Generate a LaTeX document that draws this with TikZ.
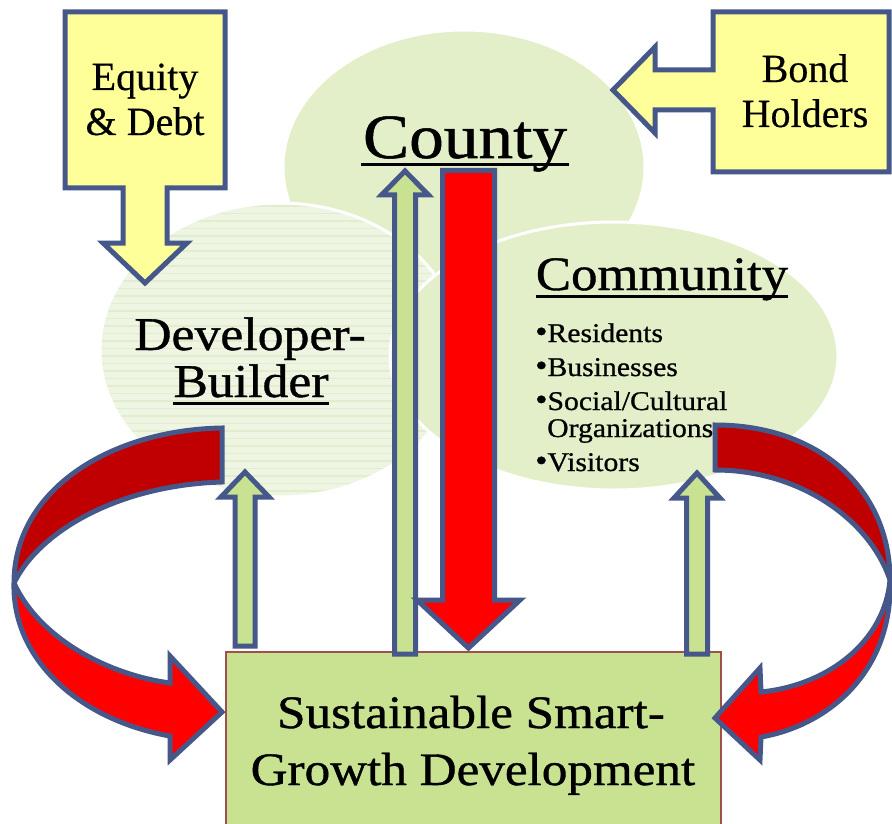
\documentclass[tikz,border=0pt]{standalone}
\usepackage{fontspec}
\setmainfont{Liberation Serif}
\newfontfamily\widefont[FakeStretch=1.1,FakeBold=0.8]{Liberation Serif}
\newfontfamily\callfont[FakeBold=0.4]{Liberation Serif}
\definecolor{blobfill}{RGB}{226,239,201}
\definecolor{devfill}{RGB}{238,245,226}
\definecolor{devstripe}{RGB}{226,237,206}
\definecolor{edge}{RGB}{70,87,138}
\definecolor{pale}{RGB}{255,255,153}
\definecolor{leaf}{RGB}{200,226,145}
\definecolor{hot}{RGB}{255,0,0}
\definecolor{deep}{RGB}{192,0,0}
\definecolor{rim}{RGB}{160,80,76}
\tikzset{
  blob/.style={fill=blobfill, draw=white, line width=3pt},
  block/.style={draw=edge, line width=5pt, line join=miter, miter limit=3},
  yblock/.style={block, fill=pale},
  gblock/.style={block, fill=leaf},
  rblock/.style={block, fill=hot},
  dblock/.style={block, fill=deep},
  lbl/.style={inner sep=0pt, text=black},
  ul/.style={line width=3pt, black},
  bul/.style={lbl, anchor=base west, font=\widefont\fontsize{27}{30}\selectfont},
  greenbox/.style={draw=rim, line width=2pt, fill=leaf, inner sep=0pt}
}
\newcommand{\dotmark}{{\fontsize{32}{30}\selectfont•}}
\begin{document}
\begin{tikzpicture}[x=1pt,y=-1pt]
\path[use as bounding box] (0,0) rectangle (892,824);

% background blobs
\fill[blob] (464,167) ellipse [x radius=181pt, y radius=137pt];
\begin{scope}
  \clip (280,350) ellipse [x radius=180pt, y radius=147pt];
  \fill[devfill] (95,195) rectangle (465,505);
  \foreach \yy in {206,213.5,...,500} \draw[devstripe, line width=1.4pt] (95,\yy) -- (465,\yy);
\end{scope}
\draw[white, line width=3pt] (280,350) ellipse [x radius=180pt, y radius=147pt];
\fill[blob] (614,356) ellipse [x radius=224pt, y radius=134pt];

% funding call-outs
\draw[yblock] (65,12) -- (225,12) -- (225,188) -- (167,188) -- (167,243) -- (187,243)
  -- (145,283) -- (103,243) -- (123,243) -- (123,188) -- (65,188) -- cycle;
\node[lbl, font=\callfont\fontsize{40}{44}\selectfont, anchor=base] (equity) at (145,90) {Equity};
\node[lbl, font=\callfont\fontsize{40}{44}\selectfont, anchor=base] (debt) at (145,135) {\& Debt};

\draw[yblock] (889,12) -- (713,12) -- (713,70) -- (655,70) -- (655,47) -- (613,90)
  -- (655,133) -- (655,110) -- (713,110) -- (713,172) -- (889,172) -- cycle;
\node[lbl, font=\callfont\fontsize{40}{44}\selectfont, anchor=base] (bond) at (805,82) {Bond};
\node[lbl, font=\callfont\fontsize{40}{44}\selectfont, anchor=base] (holders) at (805,127) {Holders};

% headings
\node[lbl, font=\widefont\fontsize{63}{70}\selectfont, anchor=base] (county) at (465,158) {County};
\draw[ul] ([xshift=-2pt,yshift=-7pt]county.base west) -- ([xshift=2pt,yshift=-7pt]county.base east);

\node[lbl, font=\widefont\fontsize{48}{52}\selectfont, anchor=base] (community) at (662,290) {Community};
\draw[ul] ([yshift=-6pt]community.base west) -- ([yshift=-6pt]community.base east);

\node[lbl, font=\widefont\fontsize{47}{52}\selectfont, anchor=base] (dev) at (250,350) {Developer-};
\node[lbl, font=\widefont\fontsize{47}{52}\selectfont, anchor=base] (builder) at (251,397) {Builder};
\draw[ul] ([yshift=-6pt]builder.base west) -- ([yshift=-6pt]builder.base east);

\node[bul] (res) at (535,342) {\dotmark Residents};
\node[bul] (bus) at (535,376) {\dotmark Businesses};
\node[bul] (soc) at (535,410) {\dotmark Social/Cultural};
\node[bul] (org) at (547,437) {Organizations};
\node[bul] (vis) at (535,471) {\dotmark Visitors};

% outcome box
\node[greenbox, minimum width=495pt, minimum height=190pt, anchor=north west] (sgd) at (225,651) {};
\node[lbl, font=\widefont\fontsize{46.5}{52}\selectfont, anchor=base] (sgd1) at (471,728) {Sustainable Smart-};
\node[lbl, font=\widefont\fontsize{46.5}{52}\selectfont, anchor=base] (sgd2) at (473,785) {Growth Development};

% upward flows
\draw[gblock] (235,646) -- (235,497) -- (221,497) -- (245,472) -- (269,497) -- (255,497) -- (255,646) -- cycle;
\draw[gblock] (394.5,654) -- (394.5,195) -- (381.5,195) -- (405,171) -- (428.5,195) -- (415.5,195) -- (415.5,654) -- cycle;
\draw[gblock] (686.5,654) -- (686.5,498) -- (674,498) -- (697,473) -- (720,498) -- (707.5,498) -- (707.5,654) -- cycle;

% downward flow
\draw[rblock] (442.5,170.5) -- (494.5,170.5) -- (494.5,600) -- (520,600) -- (468.5,648)
  -- (417,600) -- (442.5,600) -- cycle;

% left loop
\draw[dblock] (222,428) .. controls (110,430) and (14,490) .. (14,583)
  .. controls (40,530) and (120,485) .. (222,482) -- cycle;
\draw[rblock] (14,583) .. controls (12,660) and (80,720) .. (170,736) -- (170,760) -- (222,712)
  -- (170,656) -- (170,683) .. controls (110,675) and (40,640) .. (14,583) -- cycle;

% right loop
\draw[dblock] (715,425) .. controls (820,425) and (890,490) .. (890,580)
  .. controls (870,520) and (800,470) .. (715,470) -- cycle;
\draw[rblock] (890,580) .. controls (893,670) and (830,725) .. (761,737) -- (760,760) -- (715,718)
  -- (760,668) -- (761,692) .. controls (830,685) and (885,640) .. (890,580) -- cycle;
\end{tikzpicture}
\end{document}
